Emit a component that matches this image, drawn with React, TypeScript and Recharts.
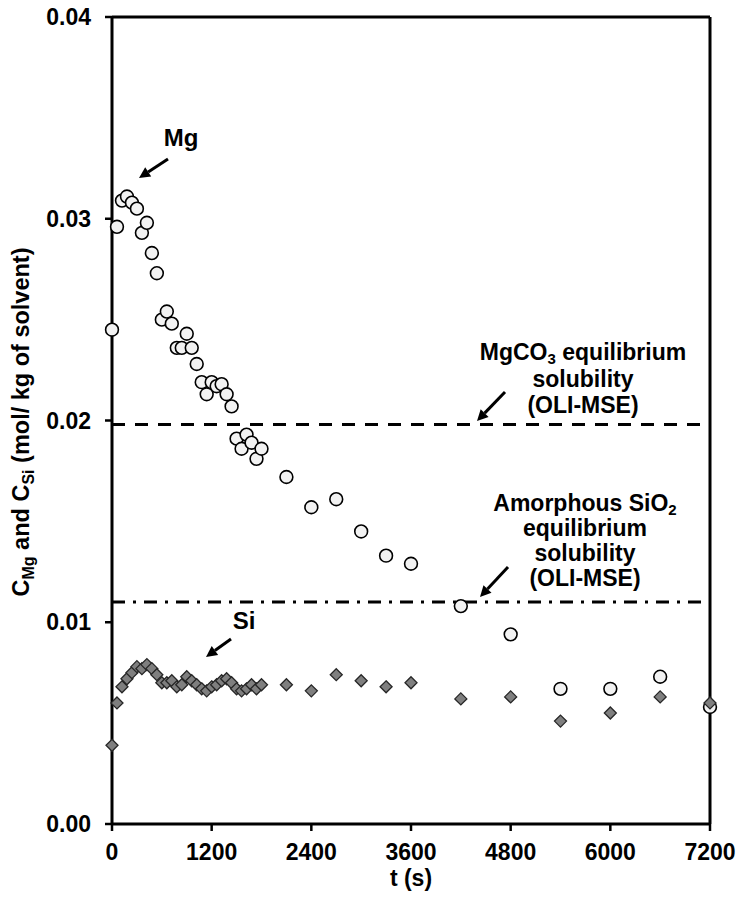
import React from 'react';
import { ScatterChart, Scatter, XAxis, YAxis, ReferenceLine } from 'recharts';

// sampling times (s)
const times = [
    0, 60, 120, 180, 240, 300, 360, 420, 480, 540, 600, 660, 720, 780, 840, 900, 960, 1020, 1080, 1140,
    1200, 1260, 1320, 1380, 1440, 1500, 1560, 1620, 1680, 1740, 1800, 2100, 2400, 2700, 3000, 3300, 3600,
    4200, 4800, 5400, 6000, 6600, 7200,
];

// Mg concentration (mol/kg of solvent)
const mgConc = [
    0.0245, 0.0296, 0.0309, 0.0311, 0.0308, 0.0305, 0.0293, 0.0298, 0.0283, 0.0273, 0.0250, 0.0254, 0.0248,
    0.0236, 0.0236, 0.0243, 0.0236, 0.0228, 0.0219, 0.0213, 0.0219, 0.0217, 0.0218, 0.0213, 0.0207, 0.0191,
    0.0186, 0.0193, 0.0189, 0.0181, 0.0186, 0.0172, 0.0157, 0.0161, 0.0145, 0.0133, 0.0129, 0.0108, 0.0094,
    0.0067, 0.0067, 0.0073, 0.0058,
];

// Si concentration (mol/kg of solvent)
const siConc = [
    0.0039, 0.0060, 0.0068, 0.0072, 0.0075, 0.0078, 0.0077, 0.0079, 0.0077, 0.0074, 0.0070, 0.0070, 0.0071,
    0.0068, 0.0069, 0.0073, 0.0071, 0.0069, 0.0067, 0.0066, 0.0068, 0.0069, 0.0071, 0.0072, 0.0070, 0.0067,
    0.0066, 0.0067, 0.0069, 0.0067, 0.0069, 0.0069, 0.0066, 0.0074, 0.0071, 0.0068, 0.0070, 0.0062, 0.0063,
    0.0051, 0.0055, 0.0063, 0.0060,
];

// OLI-MSE equilibrium solubilities
const mgco3Solubility = 0.0198;
const sio2Solubility = 0.011;

const xTicks = [0, 1200, 2400, 3600, 4800, 6000, 7200];
const yTicks = [0, 0.01, 0.02, 0.03, 0.04];

const mgData = times.map((t, i) => ({ t, c: mgConc[i] }));
const siData = times.map((t, i) => ({ t, c: siConc[i] }));

const FONT = '"Liberation Sans", Arial, sans-serif';
const tickStyle = { fontSize: 23, fontWeight: 'bold', fill: '#000', fontFamily: FONT };

const Circle = (p: any) => (
    <circle cx={p.cx} cy={p.cy} r={6.4} fill="#f2f2f2" stroke="#000" strokeWidth={1.6} />
);

const Diamond = (p: any) => {
    const r = 6;
    return (
        <polygon
            points={`${p.cx},${p.cy - r} ${p.cx + r},${p.cy} ${p.cx},${p.cy + r} ${p.cx - r},${p.cy}`}
            fill="#7f7f7f"
            stroke="#262626"
            strokeWidth={1.3}
        />
    );
};

function Arrow({ x1, y1, x2, y2 }: { x1: number; y1: number; x2: number; y2: number }) {
    const ang = Math.atan2(y2 - y1, x2 - x1);
    const len = 11;
    const half = 5.5;
    const bx = x2 - len * Math.cos(ang);
    const by = y2 - len * Math.sin(ang);
    const px = -Math.sin(ang) * half;
    const py = Math.cos(ang) * half;
    return (
        <g>
            <line x1={x1} y1={y1} x2={bx} y2={by} stroke="#000" strokeWidth={3} />
            <polygon points={`${x2},${y2} ${bx + px},${by + py} ${bx - px},${by - py}`} fill="#000" />
        </g>
    );
}

export default function App() {
    const textProps = { fontFamily: FONT, fontWeight: 'bold', fontSize: 23, fill: '#000', textAnchor: 'middle' as const };
    return (
        <div style={{ position: 'absolute', left: 0, top: 0, width: 741, height: 904, background: '#fff' }}>
            <ScatterChart width={741} height={904} margin={{ top: 17, right: 31, bottom: 0, left: 0 }}>
                <XAxis
                    type="number"
                    dataKey="t"
                    domain={[0, 7200]}
                    ticks={xTicks}
                    height={80}
                    tickSize={7}
                    tickMargin={13}
                    tick={tickStyle}
                    axisLine={{ stroke: '#000', strokeWidth: 3 }}
                    tickLine={{ stroke: '#000', strokeWidth: 2.5 }}
                />
                <YAxis
                    type="number"
                    dataKey="c"
                    domain={[0, 0.04]}
                    ticks={yTicks}
                    width={112}
                    tickSize={7}
                    tickMargin={14}
                    tick={tickStyle}
                    tickFormatter={(v: number) => v.toFixed(2)}
                    axisLine={{ stroke: '#000', strokeWidth: 3 }}
                    tickLine={{ stroke: '#000', strokeWidth: 2.5 }}
                />
                <ReferenceLine y={0.04} stroke="#000" strokeWidth={3} />
                <ReferenceLine x={7200} stroke="#000" strokeWidth={3} />
                <ReferenceLine y={mgco3Solubility} stroke="#000" strokeWidth={3} strokeDasharray="13 10" />
                <ReferenceLine y={sio2Solubility} stroke="#000" strokeWidth={3} strokeDasharray="13 8 3 8" />
                <Scatter data={mgData} shape={Circle} isAnimationActive={false} />
                <Scatter data={siData} shape={Diamond} isAnimationActive={false} />
            </ScatterChart>

            <svg width={741} height={904} style={{ position: 'absolute', left: 0, top: 0, pointerEvents: 'none' }}>
                {/* y-axis title with subscripts */}
                <text transform="translate(29,422) rotate(-90)" {...textProps} fontSize={23.5}>
                    C<tspan fontSize={16} dy={5}>Mg</tspan>
                    <tspan dy={-5}> and C</tspan>
                    <tspan fontSize={16} dy={5}>Si</tspan>
                    <tspan dy={-5}> (mol/ kg of solvent)</tspan>
                </text>
                <text x={411} y={886} {...textProps}>t (s)</text>

                <text x={181} y={146} {...textProps} fontSize={24}>Mg</text>
                <Arrow x1={168} y1={159} x2={139} y2={178} />

                <text x={244} y={629} {...textProps} fontSize={24}>Si</text>
                <Arrow x1={231} y1={639} x2={206} y2={657} />

                <text x={583} y={360} {...textProps}>
                    MgCO<tspan fontSize={15} dy={4}>3</tspan>
                    <tspan dy={-4}> equilibrium</tspan>
                </text>
                <text x={583} y={387} {...textProps}>solubility</text>
                <text x={583} y={413} {...textProps}>(OLI-MSE)</text>
                <Arrow x1={505} y1={392} x2={477} y2={421} />

                <text x={585} y={511} {...textProps}>
                    Amorphous SiO<tspan fontSize={15} dy={4}>2</tspan>
                </text>
                <text x={585} y={536} {...textProps}>equilibrium</text>
                <text x={585} y={561} {...textProps}>solubility</text>
                <text x={585} y={586} {...textProps}>(OLI-MSE)</text>
                <Arrow x1={508} y1={567} x2={480} y2={597} />
            </svg>
        </div>
    );
}
